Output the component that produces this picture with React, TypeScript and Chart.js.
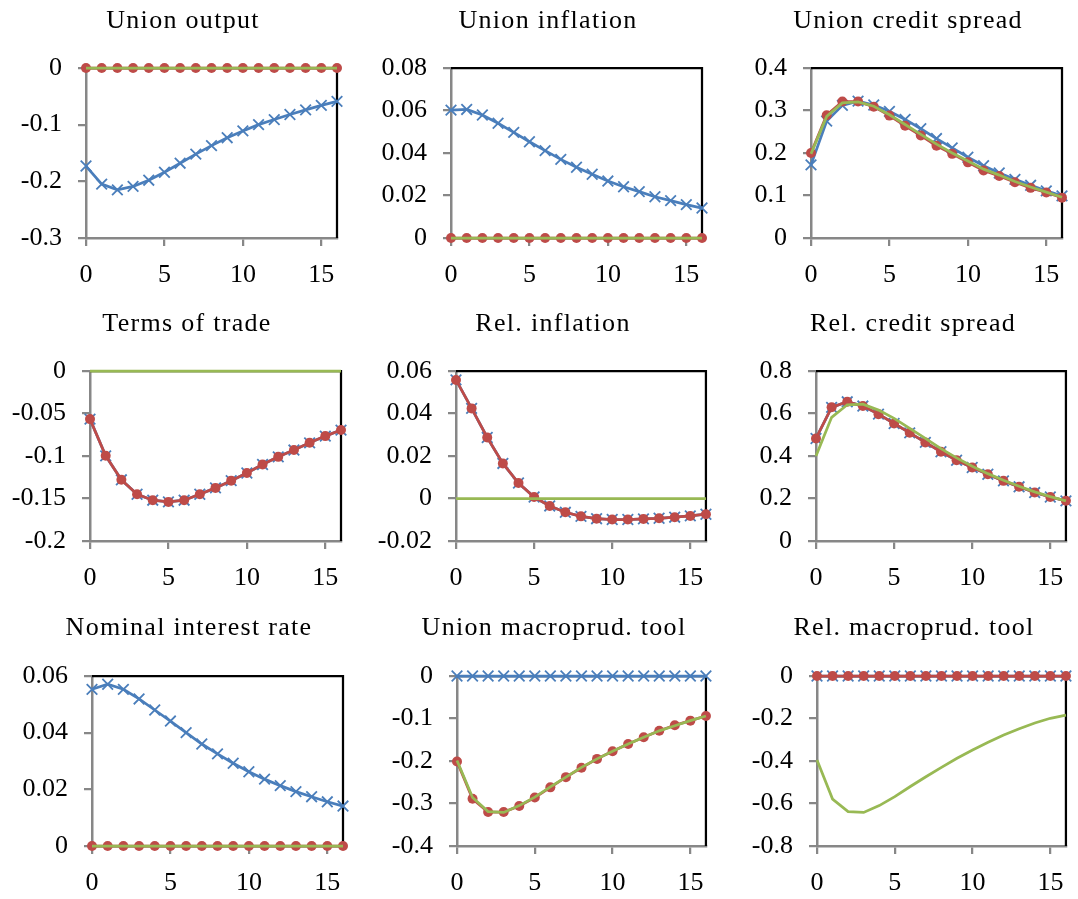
import React, { useEffect, useRef } from "react";
import { Chart, registerables } from "chart.js";

Chart.register(...registerables);

// ---------------- data ----------------
const periods = [0, 1, 2, 3, 4, 5, 6, 7, 8, 9, 10, 11, 12, 13, 14, 15, 16];
const xTickValues = [0, 5, 10, 15];

const zeroResponse = [0, 0, 0, 0, 0, 0, 0, 0, 0, 0, 0, 0, 0, 0, 0, 0, 0];

const panelTitles = [
  "Union output",
  "Union inflation",
  "Union credit spread",
  "Terms of trade",
  "Rel. inflation",
  "Rel. credit spread",
  "Nominal interest rate",
  "Union macroprud. tool",
  "Rel. macroprud. tool",
];

// y-axis tick values per panel
const unionOutputTicks = [-0.3, -0.2, -0.1, 0];
const unionInflationTicks = [0, 0.02, 0.04, 0.06, 0.08];
const unionSpreadTicks = [0, 0.1, 0.2, 0.3, 0.4];
const termsOfTradeTicks = [-0.2, -0.15, -0.1, -0.05, 0];
const relInflationTicks = [-0.02, 0, 0.02, 0.04, 0.06];
const relSpreadTicks = [0, 0.2, 0.4, 0.6, 0.8];
const interestRateTicks = [0, 0.02, 0.04, 0.06];
const unionToolTicks = [-0.4, -0.3, -0.2, -0.1, 0];
const relToolTicks = [-0.8, -0.6, -0.4, -0.2, 0];

// Union output
const unionOutputBlue = [-0.173, -0.205, -0.215, -0.209, -0.198, -0.184, -0.168, -0.152, -0.137, -0.123, -0.111, -0.1, -0.091, -0.082, -0.074, -0.066, -0.059];
const unionOutputRed = zeroResponse;
const unionOutputGreen = zeroResponse;

// Union inflation
const unionInflationBlue = [0.0602, 0.0605, 0.0579, 0.054, 0.0497, 0.0453, 0.0411, 0.037, 0.0333, 0.03, 0.0268, 0.0241, 0.0218, 0.0194, 0.0176, 0.0157, 0.0141];
const unionInflationRed = zeroResponse;
const unionInflationGreen = zeroResponse;

// Union credit spread
const unionSpreadBlue = [0.172, 0.275, 0.312, 0.322, 0.313, 0.298, 0.279, 0.257, 0.234, 0.212, 0.19, 0.17, 0.153, 0.138, 0.124, 0.111, 0.099];
const unionSpreadRed = [0.2, 0.289, 0.321, 0.321, 0.309, 0.288, 0.264, 0.241, 0.217, 0.198, 0.178, 0.159, 0.146, 0.131, 0.118, 0.107, 0.095];
const unionSpreadGreen = [0.198, 0.286, 0.318, 0.32, 0.31, 0.29, 0.267, 0.244, 0.221, 0.2, 0.181, 0.162, 0.148, 0.133, 0.12, 0.108, 0.096];

// Terms of trade
const termsOfTradeBlue = [-0.0566, -0.0998, -0.128, -0.145, -0.152, -0.154, -0.152, -0.145, -0.1375, -0.129, -0.12, -0.11, -0.101, -0.093, -0.0845, -0.0766, -0.0695];
const termsOfTradeRed = [-0.0566, -0.0998, -0.128, -0.145, -0.152, -0.154, -0.152, -0.145, -0.1375, -0.129, -0.12, -0.11, -0.101, -0.093, -0.0845, -0.0766, -0.0695];
const termsOfTradeGreen = zeroResponse;

// Rel. inflation
const relInflationBlue = [0.0558, 0.0424, 0.0287, 0.0165, 0.0073, 0.0007, -0.0035, -0.0065, -0.0084, -0.0095, -0.0099, -0.0099, -0.0096, -0.0093, -0.0088, -0.0082, -0.0074];
const relInflationRed = [0.0558, 0.0424, 0.0287, 0.0165, 0.0073, 0.0007, -0.0035, -0.0065, -0.0084, -0.0095, -0.0099, -0.0099, -0.0096, -0.0093, -0.0088, -0.0082, -0.0074];
const relInflationGreen = zeroResponse;

// Rel. credit spread
const relSpreadBlue = [0.4825, 0.629, 0.655, 0.635, 0.597, 0.553, 0.509, 0.464, 0.42, 0.38, 0.346, 0.314, 0.283, 0.255, 0.228, 0.207, 0.189];
const relSpreadRed = [0.4825, 0.629, 0.655, 0.635, 0.597, 0.553, 0.509, 0.464, 0.42, 0.38, 0.346, 0.314, 0.283, 0.255, 0.228, 0.207, 0.189];
const relSpreadGreen = [0.4, 0.582, 0.641, 0.644, 0.616, 0.577, 0.53, 0.483, 0.435, 0.391, 0.352, 0.317, 0.286, 0.258, 0.231, 0.209, 0.189];

// Nominal interest rate
const interestRateBlue = [0.0553, 0.0571, 0.0553, 0.0519, 0.048, 0.0441, 0.04, 0.036, 0.0325, 0.0292, 0.0262, 0.0236, 0.0213, 0.0192, 0.0174, 0.0156, 0.0141];
const interestRateRed = zeroResponse;
const interestRateGreen = zeroResponse;

// Union macroprudential tool
const unionToolBlue = zeroResponse;
const unionToolRed = [-0.201, -0.289, -0.32, -0.32, -0.306, -0.286, -0.262, -0.238, -0.216, -0.195, -0.177, -0.16, -0.144, -0.129, -0.116, -0.105, -0.094];
const unionToolGreen = [-0.199, -0.286, -0.319, -0.321, -0.305, -0.285, -0.261, -0.238, -0.215, -0.195, -0.177, -0.16, -0.144, -0.129, -0.117, -0.105, -0.094];

// Rel. macroprudential tool
const relToolBlue = zeroResponse;
const relToolRed = zeroResponse;
const relToolGreen = [-0.395, -0.579, -0.638, -0.642, -0.61, -0.568, -0.52, -0.474, -0.43, -0.387, -0.348, -0.312, -0.278, -0.248, -0.221, -0.199, -0.184];

// ---------------- styling / layout ----------------
const FONT_FAMILY = '"Liberation Serif", "Times New Roman", serif';
const GRAY = "#878787";
const BLUE = "#4A7EBB";
const RED = "#BE4B48";
const GREEN = "#98B954";

const colX = [0, 360, 720];
const rowY = [0, 300, 600];
const CANVAS_W = 358;
const rowH = [300, 300, 299];
const titleBaseline = [27.5, 30.5, 35];

type PanelSpec = {
  title: string;
  yTicks: number[];
  blue: number[];
  red: number[];
  green: number[];
  col: number;
  row: number;
  plot: [number, number, number, number]; // page coords: left, top, right, bottom
};

const panels: PanelSpec[] = [
  { title: panelTitles[0], yTicks: unionOutputTicks, blue: unionOutputBlue, red: unionOutputRed, green: unionOutputGreen, col: 0, row: 0, plot: [86, 68, 337, 238] },
  { title: panelTitles[1], yTicks: unionInflationTicks, blue: unionInflationBlue, red: unionInflationRed, green: unionInflationGreen, col: 1, row: 0, plot: [451, 68, 702, 238] },
  { title: panelTitles[2], yTicks: unionSpreadTicks, blue: unionSpreadBlue, red: unionSpreadRed, green: unionSpreadGreen, col: 2, row: 0, plot: [811, 68, 1062, 238] },
  { title: panelTitles[3], yTicks: termsOfTradeTicks, blue: termsOfTradeBlue, red: termsOfTradeRed, green: termsOfTradeGreen, col: 0, row: 1, plot: [90, 371, 341, 541] },
  { title: panelTitles[4], yTicks: relInflationTicks, blue: relInflationBlue, red: relInflationRed, green: relInflationGreen, col: 1, row: 1, plot: [456, 371, 707, 541] },
  { title: panelTitles[5], yTicks: relSpreadTicks, blue: relSpreadBlue, red: relSpreadRed, green: relSpreadGreen, col: 2, row: 1, plot: [816, 371, 1067, 541] },
  { title: panelTitles[6], yTicks: interestRateTicks, blue: interestRateBlue, red: interestRateRed, green: interestRateGreen, col: 0, row: 2, plot: [92, 676, 343, 846] },
  { title: panelTitles[7], yTicks: unionToolTicks, blue: unionToolBlue, red: unionToolRed, green: unionToolGreen, col: 1, row: 2, plot: [457, 676, 708, 846] },
  { title: panelTitles[8], yTicks: relToolTicks, blue: relToolBlue, red: relToolRed, green: relToolGreen, col: 2, row: 2, plot: [817, 676, 1068, 846] },
];

const titlePlugin = {
  id: "panelTitle",
  afterDraw(chart: any, _args: any, opts: any) {
    const ctx = chart.ctx as CanvasRenderingContext2D;
    ctx.save();
    ctx.font = `26px ${FONT_FAMILY}`;
    (ctx as any).letterSpacing = "1.3px";
    ctx.fillStyle = "#000";
    ctx.textAlign = "center";
    ctx.textBaseline = "alphabetic";
    ctx.fillText(opts.text, opts.x, opts.y);
    ctx.restore();
  },
};

const framePlugin = {
  id: "plotFrame",
  beforeDatasetsDraw(chart: any) {
    const ctx = chart.ctx as CanvasRenderingContext2D;
    const { left, top, right, bottom } = chart.chartArea;
    ctx.save();
    ctx.strokeStyle = "#000";
    ctx.lineWidth = 2.25;
    ctx.beginPath();
    ctx.moveTo(left, top);
    ctx.lineTo(right, top);
    ctx.lineTo(right, bottom);
    ctx.stroke();
    ctx.restore();
  },
};

function fmt(v: number): string {
  return String(Number(Number(v).toFixed(4)));
}

function PanelChart({ spec }: { spec: PanelSpec }) {
  const ref = useRef<HTMLCanvasElement | null>(null);
  const cx = colX[spec.col];
  const cy = rowY[spec.row];
  const H = rowH[spec.row];
  const W = CANVAS_W;

  useEffect(() => {
    if (!ref.current) return;
    const [L, T, R, B] = spec.plot;
    const l = L - cx;
    const t = T - cy;
    const r = R - cx;
    const b = B - cy;
    const titleX = (l + r) / 2 - 28.5;
    const toPts = (arr: number[]) => periods.map((p, i) => ({ x: p, y: arr[i] }));
    const tickFont = { family: FONT_FAMILY, size: 26 };

    const chart = new Chart(ref.current, {
      type: "line",
      data: {
        datasets: [
          {
            data: toPts(spec.blue),
            borderColor: BLUE,
            backgroundColor: BLUE,
            borderWidth: 2.75,
            pointStyle: "crossRot",
            pointRadius: 7.5,
            pointBorderWidth: 1.8,
            pointBorderColor: BLUE,
            tension: 0,
            order: 3,
            clip: false as any,
          },
          {
            data: toPts(spec.red),
            borderColor: RED,
            backgroundColor: RED,
            borderWidth: 2.75,
            pointStyle: "circle",
            pointRadius: 5,
            pointBorderWidth: 0,
            pointBackgroundColor: RED,
            tension: 0,
            order: 2,
            clip: false as any,
          },
          {
            data: toPts(spec.green),
            borderColor: GREEN,
            backgroundColor: GREEN,
            borderWidth: 2.75,
            pointRadius: 0,
            tension: 0,
            order: 1,
            clip: false as any,
          },
        ],
      },
      options: {
        animation: false,
        responsive: false,
        events: [],
        layout: { padding: { left: 0, top: t, right: W - r, bottom: 0 } },
        plugins: {
          legend: { display: false },
          tooltip: { enabled: false },
          title: { display: false },
          panelTitle: { text: spec.title, x: titleX, y: titleBaseline[spec.row] },
        } as any,
        scales: {
          x: {
            type: "linear",
            min: periods[0],
            max: periods[periods.length - 1],
            afterBuildTicks: (s: any) => {
              s.ticks = xTickValues.map((v) => ({ value: v }));
            },
            afterFit: (s: any) => {
              s.height = H - b;
            },
            grid: {
              drawOnChartArea: false,
              drawTicks: true,
              tickLength: 8,
              color: GRAY,
              lineWidth: 2.25,
            },
            border: { display: true, color: GRAY, width: 2.5 },
            ticks: {
              font: tickFont,
              color: "#000",
              padding: 14,
              maxRotation: 0,
              autoSkip: false,
              callback: (v: any) => String(v),
            },
          },
          y: {
            type: "linear",
            min: spec.yTicks[0],
            max: spec.yTicks[spec.yTicks.length - 1],
            afterBuildTicks: (s: any) => {
              s.ticks = spec.yTicks.map((v) => ({ value: v }));
            },
            afterFit: (s: any) => {
              s.width = l;
            },
            grid: {
              drawOnChartArea: false,
              drawTicks: true,
              tickLength: 8,
              color: GRAY,
              lineWidth: 2.25,
            },
            border: { display: true, color: GRAY, width: 2.5 },
            ticks: {
              font: tickFont,
              color: "#000",
              padding: 16,
              autoSkip: false,
              callback: (v: any) => fmt(v),
            },
          },
        },
      } as any,
      plugins: [framePlugin, titlePlugin] as any,
    });
    return () => chart.destroy();
  }, [spec]);

  return (
    <canvas
      ref={ref}
      width={W}
      height={H}
      style={{ position: "absolute", left: cx, top: cy, width: W, height: H, display: "block" }}
    />
  );
}

export default function App() {
  return (
    <div style={{ position: "absolute", left: 0, top: 0, width: 1078, height: 899, background: "#fff", overflow: "hidden" }}>
      {panels.map((p) => (
        <PanelChart key={p.title} spec={p} />
      ))}
    </div>
  );
}
